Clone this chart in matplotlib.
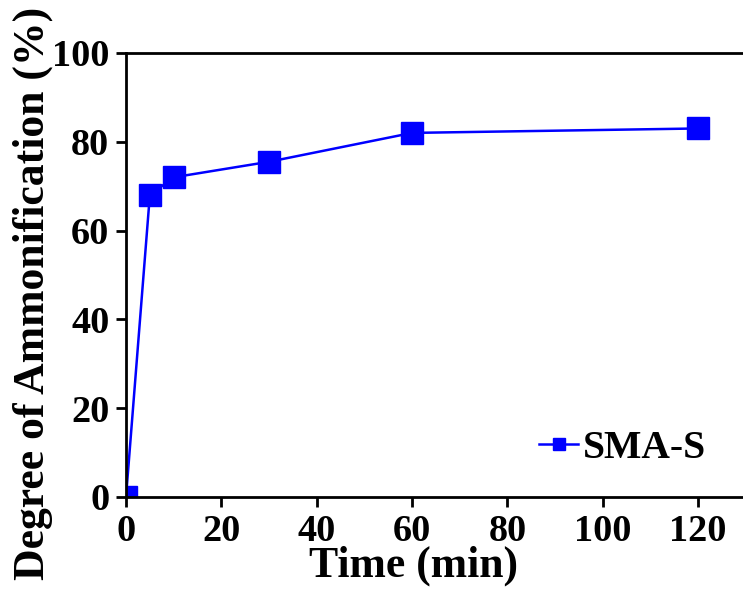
import matplotlib
matplotlib.use("Agg")
from matplotlib import pyplot as plt

# data
time_min = [0, 5, 10, 30, 60, 120]
ammonification = [0, 68, 72, 75.5, 82, 83]
series_label = "SMA-S"
xticks = [0, 20, 40, 60, 80, 100, 120]
yticks = [0, 20, 40, 60, 80, 100]

plt.rcParams['font.family'] = ['Liberation Serif', 'DejaVu Serif']
plt.rcParams['font.weight'] = 'bold'

fig = plt.figure(figsize=(7.43, 5.92), dpi=100)
ax = fig.add_axes([0.1696, 0.1605, 0.8405, 0.75])

ax.plot(time_min, ammonification, color="#0000ff", linewidth=1.8,
        marker='s', markersize=16, label=series_label)

ax.set_xlim(0, 131)
ax.set_ylim(0, 100)
ax.set_xticks(xticks)
ax.set_yticks(yticks)

for side in ['left', 'bottom', 'top', 'right']:
    ax.spines[side].set_linewidth(2.0)

ax.tick_params(axis='both', direction='out', length=7, width=2,
               labelsize=27.5, pad=5)
for lab in ax.get_xticklabels() + ax.get_yticklabels():
    lab.set_fontweight('bold')

ax.set_xlabel('Time (min)', fontsize=31.5, fontweight='bold')
ax.xaxis.label.set_va('baseline')
ax.xaxis.set_label_coords(0.461, -0.18)
ax.set_ylabel('Degree of Ammonification (%)', fontsize=31.5, fontweight='bold')
ax.yaxis.set_label_coords(-0.117, 0.458)

ax.legend(loc='center right', bbox_to_anchor=(0.985, 0.109), frameon=False,
          markerscale=0.5, handlelength=1.0, handletextpad=0.1,
          prop={'size': 28.5, 'weight': 'bold'})

fig.savefig("out.png", dpi=100)
